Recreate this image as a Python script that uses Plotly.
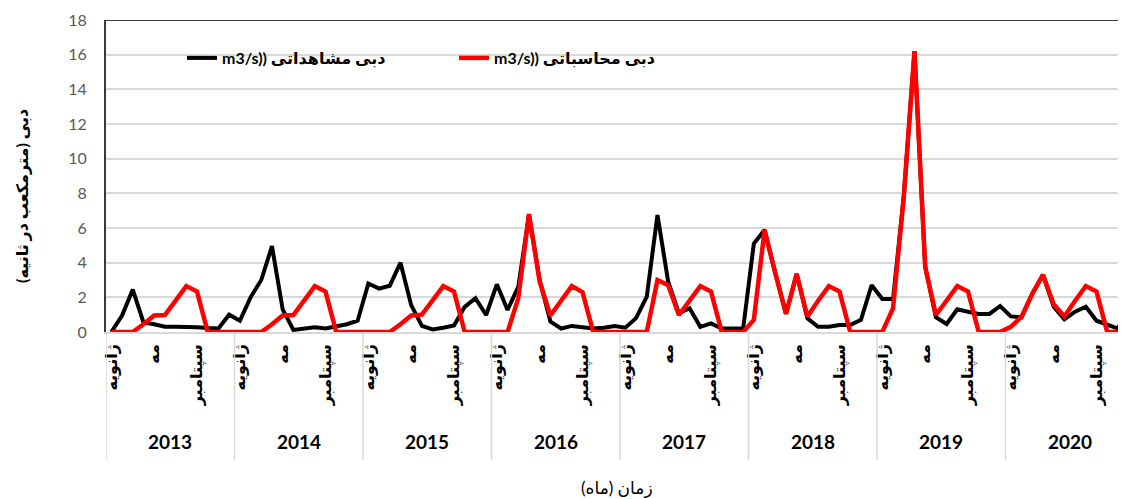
import plotly.graph_objects as go

years = [2013, 2014, 2015, 2016, 2017, 2018, 2019, 2020]
month_labels = {1: "ژانویه", 5: "مه", 9: "سپتامبر"}

# دبی مشاهداتی (m3/s) - monthly, Jan 2013 .. Dec 2020
observed = [
    0.0, 0.95, 2.45, 0.55, 0.45, 0.3, 0.3, 0.3, 0.28, 0.23, 0.2, 1.0,
    0.65, 2.0, 3.0, 4.95, 1.3, 0.12, 0.2, 0.27, 0.2, 0.3, 0.45, 0.65,
    2.8, 2.5, 2.67, 4.0, 1.55, 0.35, 0.15, 0.25, 0.38, 1.45, 1.95, 0.98,
    2.75, 1.27, 2.6, 6.75, 3.0, 0.6, 0.2, 0.35, 0.27, 0.2, 0.25, 0.35,
    0.25, 0.8, 2.04, 6.75, 2.9, 1.08, 1.37, 0.3, 0.5, 0.2, 0.2, 0.2,
    5.1, 5.88, 3.4, 1.05, 3.35, 0.79, 0.3, 0.3, 0.4, 0.4, 0.7, 2.7,
    1.9, 1.9, 7.8, 16.2, 3.77, 0.85, 0.46, 1.31, 1.17, 1.04, 1.04, 1.5,
    0.9, 0.85, 2.2, 3.3, 1.46, 0.73, 1.17, 1.46, 0.65, 0.4, 0.2, 1.46,
]

# دبی محاسباتی (m3/s)
computed = [
    0.0, 0.0, 0.0, 0.45, 0.95, 0.98, 1.8, 2.65, 2.33, 0.0, 0.0, 0.0,
    0.0, 0.0, 0.0, 0.45, 0.95, 0.98, 1.8, 2.65, 2.33, 0.0, 0.0, 0.0,
    0.0, 0.0, 0.0, 0.45, 0.95, 1.0, 1.8, 2.65, 2.33, 0.0, 0.0, 0.0,
    0.0, 0.0, 1.94, 6.8, 2.9, 0.95, 1.8, 2.65, 2.3, 0.0, 0.0, 0.0,
    0.0, 0.0, 0.0, 3.0, 2.7, 0.98, 1.85, 2.65, 2.33, 0.0, 0.0, 0.0,
    0.7, 5.88, 3.4, 1.05, 3.35, 0.88, 1.8, 2.65, 2.33, 0.0, 0.0, 0.0,
    0.0, 1.37, 7.8, 16.2, 3.77, 0.98, 1.8, 2.65, 2.33, 0.0, 0.0, 0.0,
    0.3, 0.88, 2.2, 3.3, 1.6, 0.9, 1.8, 2.65, 2.33, 0.0, 0.0, 0.0,
]

obs_name = "m3/s)) دبی مشاهداتی"
calc_name = "m3/s)) دبی محاسباتی"
y_title = "دبی (مترمکعب در ثانیه)"
x_title = "زمان (ماه)"

categories = [f"{y}-{m:02d}" for y in years for m in range(1, 13)]
tick_vals = [f"{y}-{m:02d}" for y in years for m in month_labels]
tick_text = [month_labels[m] for y in years for m in month_labels]

FONT = "Lato, DejaVu Sans, sans-serif"

fig = go.Figure()
fig.add_trace(go.Scatter(
    x=categories, y=observed, mode="lines", name=obs_name,
    line=dict(color="#000000", width=4), cliponaxis=False,
))
fig.add_trace(go.Scatter(
    x=categories, y=computed, mode="lines", name=calc_name,
    line=dict(color="#ff0000", width=4.5), cliponaxis=False,
))

# page body adds an 8px offset, so margins are set in figure coordinates
left_px, top_px = 98, 12
plot_h = 312
plot_w = 1126 - left_px
bottom_px = 499 - top_px - plot_h
axis_y = 324  # figure y of the x axis line


def py(fig_y):
    return (axis_y - fig_y) / plot_h


annotations = []
shapes = []
for k, yr in enumerate(years):
    annotations.append(dict(
        x=k * 12 + 5.5, xref="x", y=py(433), yref="paper",
        text=f"<b>{yr}</b>", showarrow=False, xanchor="center", yanchor="middle",
        font=dict(family=FONT, size=19, color="#000000"),
    ))
for k in range(len(years) + 1):
    shapes.append(dict(
        type="line", xref="x", x0=k * 12 - 0.5, x1=k * 12 - 0.5,
        yref="paper", y0=0, y1=py(452),
        line=dict(color="#d9d9d9", width=1.5),
    ))
shapes.append(dict(
    type="line", xref="paper", x0=0, x1=1, yref="y", y0=18, y1=18,
    line=dict(color="#3a3a3a", width=2),
))

annotations.append(dict(
    x=(14 - left_px) / plot_w, xref="paper", y=py(188), yref="paper",
    text=f"<b>{y_title}</b>", textangle=-90, showarrow=False,
    xanchor="center", yanchor="middle",
    font=dict(family=FONT, size=16, color="#000000"),
))
annotations.append(dict(
    x=(609 - left_px) / plot_w, xref="paper", y=py(479), yref="paper",
    text=x_title, showarrow=False, xanchor="center", yanchor="middle",
    font=dict(family=FONT, size=17, color="#000000"),
))

fig.update_layout(
    width=1126, height=499,
    margin=dict(l=left_px, r=0, t=top_px, b=bottom_px),
    paper_bgcolor="white", plot_bgcolor="white",
    font=dict(family=FONT, color="#000000"),
    showlegend=True,
    legend=dict(
        orientation="h", x=(174 - left_px) / plot_w, xanchor="left",
        y=py(50), yanchor="middle",
        entrywidth=227, entrywidthmode="pixels",
        bgcolor="rgba(0,0,0,0)",
        font=dict(family=FONT, size=16, color="#000000", weight="bold"),
    ),
    xaxis=dict(
        type="category", categoryorder="array", categoryarray=categories,
        range=[-0.5, 95.5], tickmode="array", tickvals=tick_vals, ticktext=tick_text,
        tickangle=-90, ticks="", showgrid=False, zeroline=False,
        showline=True, linecolor="#d9d9d9", linewidth=1.5,
        tickfont=dict(family=FONT, size=16, color="#000000", weight="bold"),
        ticklabelstandoff=4,
    ),
    yaxis=dict(
        range=[0, 18], dtick=2, showgrid=True, gridcolor="#d9d9d9", gridwidth=1.5,
        zeroline=False, showline=True, linecolor="#3a3a3a", linewidth=2,
        ticks="", tickfont=dict(family=FONT, size=16, color="#595959"),
        ticklabelstandoff=14,
    ),
    annotations=annotations,
    shapes=shapes,
)

fig.write_html("out.html")
